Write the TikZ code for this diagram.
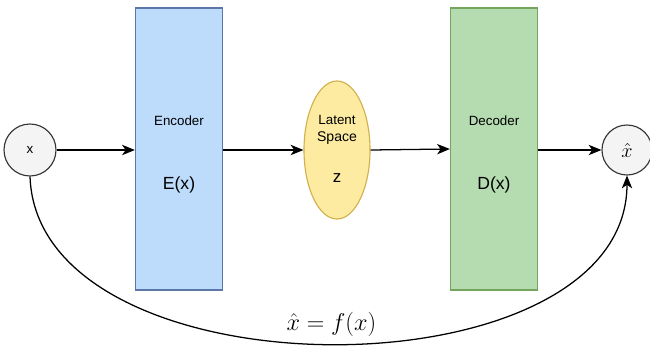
\documentclass[tikz,border=0pt]{standalone}
\usepackage{fontspec}
\setmainfont{Liberation Sans}
\usetikzlibrary{arrows.meta,shapes.geometric}

\definecolor{encfill}{HTML}{BDDBFB}
\definecolor{encline}{HTML}{5A77A8}
\definecolor{latfill}{HTML}{FCEBA0}
\definecolor{latline}{HTML}{D2B04C}
\definecolor{decfill}{HTML}{B5DBB0}
\definecolor{decline}{HTML}{74A55C}
\definecolor{iofill}{HTML}{F4F4F4}

\begin{document}
\begin{tikzpicture}[x=0.025cm, y=0.025cm,
    io/.style={circle, draw=black!80, fill=iofill, line width=0.8pt, minimum size=1.3cm, inner sep=0pt},
    block/.style={rectangle, draw, line width=0.9pt, minimum width=2.175cm, minimum height=7.05cm, align=center},
    flow/.style={-{Stealth[length=3.2mm, width=2.6mm, inset=0.9mm]}, line width=0.9pt}]
  \useasboundingbox (0, 0) rectangle (650, 351);

  \node (x) [io] at (30, 201) {\fontsize{9.5}{11}\selectfont x};
  \node (enc) [block, draw=encline, fill=encfill] at (179, 202) {};
  \node (latent) [ellipse, draw=latline, fill=latfill, line width=0.8pt, minimum width=1.65cm, minimum height=3.45cm] at (337, 201) {};
  \node (dec) [block, draw=decline, fill=decfill] at (494, 202) {};
  \node (xhat) [io, minimum size=1.25cm] at (627, 201) {\fontsize{14}{16}\selectfont $\hat{x}$};

  % block texts
  \node (enctitle) at (179, 230) {\fontsize{9.5}{11}\selectfont Encoder};
  \node (encfun) at (179, 166) {\fontsize{12.5}{14}\selectfont E(x)};
  \node (lattitle) at (337, 221) [align=center] {\fontsize{9.5}{11.5}\selectfont Latent\\Space};
  \node (latvar) at (337, 173) {\fontsize{12}{14}\selectfont z};
  \node (dectitle) at (494, 230) {\fontsize{9.5}{11}\selectfont Decoder};
  \node (decfun) at (494, 166) {\fontsize{12.5}{14}\selectfont D(x)};

  \draw[flow] (x) to (enc.west |- x);
  \draw[flow] (enc.east |- x) to (latent);
  \draw[flow] (latent.east) to (dec.west);
  \draw[flow] (dec.east |- xhat) to (xhat);
  \draw[flow] (x.south) to[out=-88, in=-90, looseness=0.96]
    node[pos=0.5, above=1pt] {\fontsize{18}{20}\selectfont $\hat{x} = f(x)$} (xhat.south);
\end{tikzpicture}
\end{document}
